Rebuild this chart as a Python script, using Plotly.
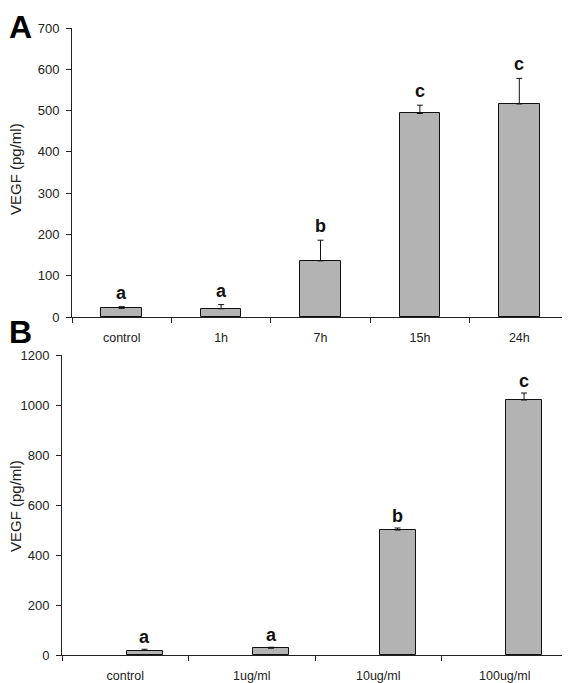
import plotly.graph_objects as go

# ---- Data ----
cats_a = ["control", "1h", "7h", "15h", "24h"]
vals_a = [21, 20, 136, 493, 516]
err_a = [4, 10, 50, 20, 62]
letters_a = ["a", "a", "b", "c", "c"]

cats_b = ["control", "1ug/ml", "10ug/ml", "100ug/ml"]
vals_b = [18, 27, 500, 1020]
err_b = [5, 4, 8, 28]
letters_b = ["a", "a", "b", "c"]

yticks_a = [0, 100, 200, 300, 400, 500, 600, 700]
yticks_b = [0, 200, 400, 600, 800, 1000, 1200]

W, H = 570, 683
# the page body adds an 8px offset; layout positions below are screen pixels
OX, OY = 8, 8
FONT = "Arial, Liberation Sans, sans-serif"
BAR_FILL = "#b3b3b3"
TXT = "#222222"


def px_x(p):
    return (p - OX) / W


def px_y(p):
    return 1 - (p - OY) / H


fig = go.Figure()

fig.add_trace(go.Bar(
    x=cats_a, y=vals_a, width=0.41,
    marker=dict(color=BAR_FILL, line=dict(color="#111111", width=1)),
    error_y=dict(type="data", symmetric=False, array=err_a,
                 arrayminus=[0] * len(err_a), color="#111111",
                 thickness=1, width=3),
    xaxis="x", yaxis="y", showlegend=False,
))

B_WIDTH = 0.285
B_OFFSET = 0.01
fig.add_trace(go.Bar(
    x=cats_b, y=vals_b, width=B_WIDTH, offset=B_OFFSET,
    marker=dict(color=BAR_FILL, line=dict(color="#111111", width=1)),
    error_y=dict(type="data", symmetric=False, array=err_b,
                 arrayminus=[0] * len(err_b), color="#111111",
                 thickness=1, width=3),
    xaxis="x2", yaxis="y2", showlegend=False,
))

axis_common = dict(
    showline=True, linecolor="#222222", linewidth=1,
    ticks="outside", ticklen=5, tickcolor="#222222", tickwidth=1,
    showgrid=False, zeroline=False, automargin=False,
)
xfont = dict(family=FONT, size=12.5, color=TXT)
yfont = dict(family=FONT, size=13, color=TXT)

fig.update_layout(
    width=W, height=H,
    margin=dict(l=0, r=0, t=0, b=0, pad=0, autoexpand=False),
    paper_bgcolor="white", plot_bgcolor="white",
    font=dict(family=FONT, color=TXT),
    bargap=0,
    xaxis=dict(domain=[px_x(72), px_x(569)], anchor="y",
               tickson="boundaries", ticklabelstandoff=9,
               range=[-0.5, 4.5], tickfont=xfont, **axis_common),
    yaxis=dict(domain=[px_y(317), px_y(28)], anchor="x",
               range=[0, 700], tickvals=yticks_a, ticklabelstandoff=4,
               tickfont=yfont, **axis_common),
    xaxis2=dict(domain=[px_x(62), px_x(568)], anchor="y2",
                tickson="boundaries", ticklabelstandoff=9,
                range=[-0.5, 3.5], tickfont=xfont, **axis_common),
    yaxis2=dict(domain=[px_y(655), px_y(355)], anchor="x2",
                range=[0, 1200], tickvals=yticks_b, ticklabelstandoff=4,
                tickfont=yfont, **axis_common),
)

annotations = []
letter_font = dict(family=FONT, size=18, color="#111111", weight="bold")
for i, (v, e, t) in enumerate(zip(vals_a, err_a, letters_a)):
    annotations.append(dict(x=i, y=v + e, xref="x", yref="y", text=t,
                            showarrow=False, yanchor="bottom", yshift=2,
                            font=letter_font))
for i, (v, e, t) in enumerate(zip(vals_b, err_b, letters_b)):
    annotations.append(dict(x=i + B_OFFSET + B_WIDTH / 2, y=v + e,
                            xref="x2", yref="y2", text=t,
                            showarrow=False, yanchor="bottom", yshift=0,
                            font=letter_font))

# y-axis titles
title_font = dict(family=FONT, size=15, color=TXT)
annotations.append(dict(x=px_x(15), y=px_y(169), xref="paper", yref="paper",
                        xanchor="center", yanchor="middle",
                        text="VEGF (pg/ml)", textangle=-90, showarrow=False,
                        font=title_font))
annotations.append(dict(x=px_x(15), y=px_y(506), xref="paper", yref="paper",
                        xanchor="center", yanchor="middle",
                        text="VEGF (pg/ml)", textangle=-90, showarrow=False,
                        font=title_font))

# panel labels
panel_font = dict(family=FONT, size=32, color="#000000", weight="bold")
annotations.append(dict(x=px_x(8), y=px_y(8), xref="paper", yref="paper",
                        text="A", showarrow=False, xanchor="left", yanchor="top",
                        borderpad=0, font=panel_font))
annotations.append(dict(x=px_x(8), y=px_y(313), xref="paper", yref="paper",
                        text="B", showarrow=False, xanchor="left", yanchor="top",
                        borderpad=0, font=panel_font))

fig.update_layout(annotations=annotations)

fig.write_html("out.html")
